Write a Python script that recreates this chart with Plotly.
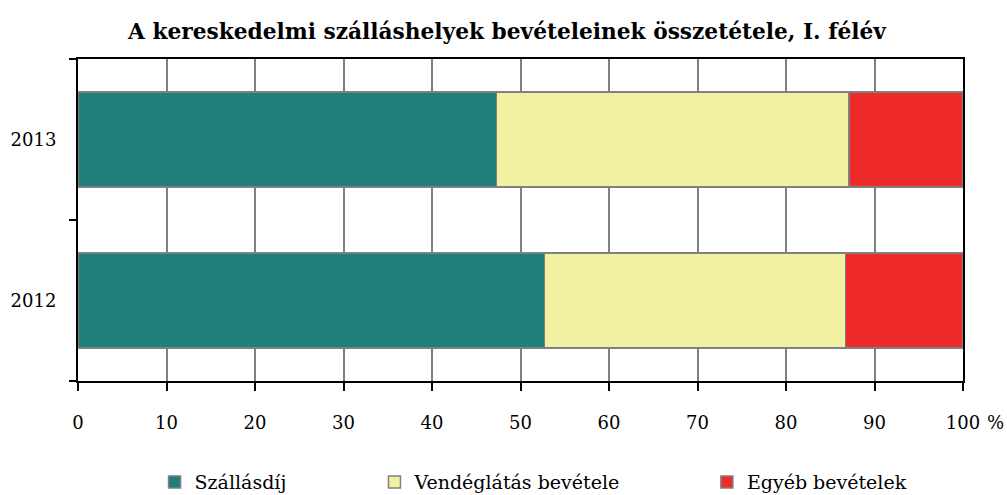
import plotly.graph_objects as go

years = ["2012", "2013"]
szallasdij = [52.7, 47.3]
vendeglatas = [34.0, 39.8]
egyeb = [13.3, 12.9]
series_names = ["Szállásdíj", "Vendéglátás bevétele", "Egyéb bevételek"]
colors = ["#1F7F7B", "#F2F0A1", "#EE2B29"]
x_ticks = [0, 10, 20, 30, 40, 50, 60, 70, 80, 90, 100]
x_ticktext = ["0", "10", "20", "30", "40", "50", "60", "70", "80", "90", "100"]

FONT = "DejaVu Serif"

fig = go.Figure()
legend_ids = ["legend", "legend2", "legend3"]
for vals, name, col, lg in zip([szallasdij, vendeglatas, egyeb], series_names, colors, legend_ids):
    fig.add_trace(go.Bar(
        y=years, x=vals, name=name, orientation="h",
        marker=dict(color=col, line=dict(color="#808080", width=1.5)),
        legend=lg, showlegend=True,
    ))

legend_common = dict(orientation="h", yref="container", yanchor="middle", y=0.026,
                     xanchor="left",
                     font=dict(family=FONT, size=19, color="#000"), bgcolor="rgba(0,0,0,0)",
                     itemwidth=30)

fig.update_layout(
    barmode="stack",
    bargap=0.41,
    showlegend=True,
    width=1007, height=495,
    margin=dict(l=78, r=44, t=59, b=114),
    paper_bgcolor="white", plot_bgcolor="white",
    title=dict(text="<b>A kereskedelmi szálláshelyek bevételeinek összetétele, I. félév</b>",
               x=0.5035, xanchor="center", y=0.937, yanchor="middle",
               font=dict(family=FONT, size=21.7, color="#000")),
    legend=dict(x=0.0865, **legend_common),
    legend2=dict(x=0.335, **legend_common),
    legend3=dict(x=0.7106, **legend_common),
    xaxis=dict(range=[0, 100], tickvals=x_ticks, ticktext=x_ticktext,
               showgrid=True, gridcolor="#808080", gridwidth=1.5,
               showline=True, linecolor="#000", linewidth=2, mirror=True,
               ticks="outside", ticklen=8, tickcolor="#000", tickwidth=1.5,
               ticklabelstandoff=16,
               tickfont=dict(family=FONT, size=18, color="#000"), zeroline=False),
    yaxis=dict(showgrid=False, showline=True, linecolor="#000", linewidth=2, mirror=True,
               ticks="outside", tickson="boundaries", ticklen=7, tickcolor="#000", tickwidth=1.5,
               tickfont=dict(family=FONT, size=18, color="#000"), ticklabelstandoff=16),
    annotations=[dict(text="%", x=1.0, xref="paper", y=0, yref="paper", xanchor="left",
                      yanchor="middle", xshift=22, yshift=-41, showarrow=False,
                      font=dict(family=FONT, size=18, color="#000"))],
)

fig.write_html("out.html", config=dict(displayModeBar=False),
               post_script="document.body.style.margin='0';document.body.style.overflow='hidden';")
